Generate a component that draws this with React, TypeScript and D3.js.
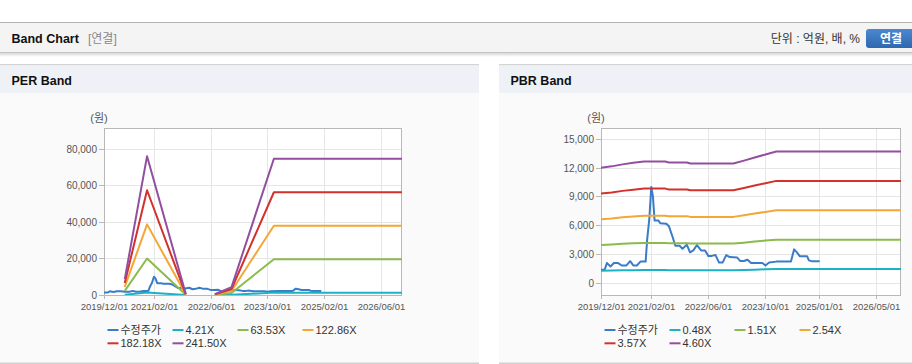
import React from "react";
import * as d3 from "d3";

// ---------- DATA ----------
const priceDates = [
  "2019-12-01", "2020-01-01", "2020-01-20", "2020-02-20", "2020-03-20", "2020-04-25",
  "2020-05-25", "2020-07-05", "2020-08-05", "2020-09-01", "2020-10-01", "2020-11-01",
  "2020-12-15", "2020-12-28", "2021-01-15", "2021-02-01", "2021-02-15", "2021-03-01",
  "2021-04-01", "2021-04-20", "2021-06-10", "2021-07-01", "2021-08-01", "2021-08-25",
  "2021-09-30", "2021-10-25", "2021-12-01", "2021-12-28", "2022-01-25", "2022-02-25",
  "2022-04-01", "2022-05-05", "2022-06-01", "2022-07-01", "2022-08-01", "2022-09-01",
  "2022-10-01", "2022-11-01", "2022-12-01", "2023-02-01", "2023-03-01", "2023-04-01",
  "2023-05-01", "2023-06-01", "2023-09-05", "2023-10-01", "2023-11-01", "2024-01-01",
  "2024-05-05", "2024-06-01", "2024-06-25", "2024-07-20", "2024-09-20", "2024-10-05",
  "2024-11-01", "2025-01-05",
];
const priceValues = [
  1350, 1350, 2050, 1700, 2050, 2050,
  1800, 1800, 2250, 1800, 1800, 2200,
  2200, 4500, 6600, 10000, 9000, 6500,
  6500, 6200, 6150, 5900, 4800, 3860,
  3860, 3550, 3960, 3160, 3370, 3930,
  3370, 3370, 2800, 2800, 2900, 2100,
  2100, 2880, 2680, 2640, 2260, 2260,
  2400, 2050, 2050, 1800, 2100, 2200,
  2200, 3480, 3160, 2750, 2750, 2330,
  2230, 2230,
];

// PER band: EPS per date (null = no band)
const epsDates = ["2020-05-27", "2020-12-04", "2021-11-01", "2022-03-01", "2022-07-08", "2022-11-28", "2023-11-26", "2026-11-28"];
const epsValues: (number | null)[] = [36, 315, 2, null, 2, 18, 309, 309];
const perMultiples = [4.21, 63.53, 122.86, 182.18, 241.5];
const perLabels = ["4.21X", "63.53X", "122.86X", "182.18X", "241.50X"];

// PBR band: BPS per date
const bpsDates = [
  "2019-12-01", "2020-03-01", "2020-06-01", "2020-09-01", "2020-12-01", "2021-06-01",
  "2021-07-01", "2021-12-01", "2022-01-01", "2023-01-01", "2023-04-01", "2023-07-01",
  "2023-10-01", "2024-01-01", "2026-11-28",
];
const bpsValues = [
  2607, 2640, 2685, 2720, 2751, 2751,
  2728, 2728, 2705, 2705, 2770, 2840,
  2910, 2977, 2977,
];
const pbrMultiples = [0.48, 1.51, 2.54, 3.57, 4.6];
const pbrLabels = ["0.48X", "1.51X", "2.54X", "3.57X", "4.60X"];

const priceLabel = "수정주가";
const seriesColors = ["#3a7cc8", "#1cb2c6", "#8bbb4c", "#f4a636", "#d2312c", "#944ea0"];

const perYTicks = [0, 20000, 40000, 60000, 80000];
const pbrYTicks = [0, 3000, 6000, 9000, 12000, 15000];
const perXTicks = ["2019-12-01", "2021-02-01", "2022-06-01", "2023-10-01", "2025-02-01", "2026-06-01"];
const pbrXTicks = ["2019-12-01", "2021-02-01", "2022-06-01", "2023-10-01", "2025-01-01", "2026-05-01"];
const xDomain = ["2019-12-01", "2026-11-28"];

// ---------- HELPERS ----------
const parse = d3.timeParse("%Y-%m-%d");
const FONT = "'Liberation Sans', 'Noto Sans CJK KR', Arial, sans-serif";

type Pt = { d: Date; v: number | null };
type Series = { name: string; color: string; points: Pt[] };

const pricePoints: Pt[] = priceDates.map((s, i) => ({ d: parse(s) as Date, v: priceValues[i] }));

const perSeries: Series[] = [
  { name: priceLabel, color: seriesColors[0], points: pricePoints },
  ...perMultiples.map((m, k) => ({
    name: perLabels[k],
    color: seriesColors[k + 1],
    points: epsDates.map((s, i) => ({ d: parse(s) as Date, v: epsValues[i] == null ? null : (epsValues[i] as number) * m })),
  })),
];

const pbrSeries: Series[] = [
  { name: priceLabel, color: seriesColors[0], points: pricePoints },
  ...pbrMultiples.map((m, k) => ({
    name: pbrLabels[k],
    color: seriesColors[k + 1],
    points: bpsDates.map((s, i) => ({ d: parse(s) as Date, v: bpsValues[i] * m })),
  })),
];

type ChartProps = {
  id: string;
  left: number;
  right: number;
  top: number;
  bottom: number;
  yDomain: [number, number];
  yTicks: number[];
  xTicks: string[];
  series: Series[];
};

function BandChart({ id, left, right, top, bottom, yDomain, yTicks, xTicks, series }: ChartProps) {
  const x = d3.scaleTime().domain(xDomain.map((s) => parse(s) as Date)).range([left, right]);
  const y = d3.scaleLinear().domain(yDomain).range([bottom, top]);
  const line = d3
    .line<Pt>()
    .defined((p) => p.v != null)
    .x((p) => x(p.d))
    .y((p) => y(p.v as number));
  const fmt = d3.format(",");
  const legendX0 = left + 3.5;
  return (
    <g>
      <defs>
        <clipPath id={id + "clip"}>
          <rect x={left} y={top} width={right - left} height={bottom - top} />
        </clipPath>
      </defs>
      <rect x={left} y={top} width={right - left} height={bottom - top} fill="#ffffff" />
      {/* grid */}
      {yTicks.map((t) => (
        <line key={"gy" + t} x1={left} x2={right} y1={Math.round(y(t)) + 0.5} y2={Math.round(y(t)) + 0.5} stroke="#e6e6e6" />
      ))}
      {xTicks.map((t) => {
        const xx = Math.round(x(parse(t) as Date)) + 0.5;
        return <line key={"gx" + t} x1={xx} x2={xx} y1={top} y2={bottom} stroke="#e6e6e6" />;
      })}
      {/* frame */}
      <rect x={left + 0.5} y={top + 0.5} width={right - left - 1} height={bottom - top} fill="none" stroke="#b8b8b8" />
      {/* y ticks + labels */}
      {yTicks.map((t) => {
        const yy = Math.round(y(t)) + 0.5;
        return (
          <g key={"yt" + t}>
            <line x1={left - 5} x2={left} y1={yy} y2={yy} stroke="#b8b8b8" />
            <text x={left - 7} y={yy} dy="0.35em" textAnchor="end" fontSize={10} fill="#555" fontFamily={FONT}>
              {fmt(t)}
            </text>
          </g>
        );
      })}
      {/* x ticks + labels */}
      {xTicks.map((t) => {
        const xx = Math.round(x(parse(t) as Date)) + 0.5;
        return (
          <g key={"xt" + t}>
            <line x1={xx} x2={xx} y1={bottom} y2={bottom + 4} stroke="#b8b8b8" />
            <text x={xx} y={310} textAnchor="middle" fontSize={9.5} fill="#555" fontFamily={FONT}>
              {t.replace(/-/g, "/")}
            </text>
          </g>
        );
      })}
      <text x={left - 5} y={122} textAnchor="middle" fontSize={11} fill="#555" fontFamily={FONT}>
        (원)
      </text>
      {/* series */}
      <g clipPath={`url(#${id}clip)`}>
        {series.map((s) => (
          <path key={s.name} d={line(s.points) || ""} fill="none" stroke={s.color} strokeWidth={2} strokeLinejoin="round" />
        ))}
      </g>
      {/* legend */}
      {series.map((s, i) => {
        const col = i % 4;
        const row = Math.floor(i / 4);
        const lx = legendX0 + col * 65;
        const ly = 330 + row * 13.3;
        return (
          <g key={"lg" + s.name}>
            <line x1={lx} x2={lx + 11} y1={ly} y2={ly} stroke={s.color} strokeWidth={2} />
            <text x={lx + 13} y={ly + 3.8} fontSize={11} fill="#333" fontFamily={FONT}>
              {s.name}
            </text>
          </g>
        );
      })}
    </g>
  );
}

export default function App() {
  return (
    <div style={{ position: "fixed", left: 0, top: 0 }}>
      <svg width={912} height={364} style={{ display: "block" }}>
        <defs>
          <linearGradient id="shadow" x1="0" y1="0" x2="0" y2="1">
            <stop offset="0" stopColor="#d8d8d8" />
            <stop offset="1" stopColor="#ffffff" />
          </linearGradient>
          <linearGradient id="btn" x1="0" y1="0" x2="0" y2="1">
            <stop offset="0" stopColor="#4b88cf" />
            <stop offset="1" stopColor="#2d68b0" />
          </linearGradient>
        </defs>
        <rect x={0} y={0} width={912} height={364} fill="#ffffff" />
        {/* top header bar */}
        <rect x={0} y={22} width={912} height={1} fill="#b4b4b4" />
        <rect x={0} y={23} width={912} height={29} fill="#f4f4f4" />
        <rect x={0} y={52} width={912} height={1} fill="#c4c4c4" />
        <rect x={0} y={53} width={912} height={4} fill="url(#shadow)" />
        <text x={11.5} y={43} fontSize={12.5} fontWeight="bold" fill="#111" fontFamily={FONT}>
          Band Chart
        </text>
        <text x={88} y={43} fontSize={12} fill="#888" fontFamily={FONT}>
          [연결]
        </text>
        <text x={860} y={43} textAnchor="end" fontSize={12} fill="#333" fontFamily={FONT}>
          단위 : 억원, 배, %
        </text>
        <rect x={866} y={29} width={50} height={19} rx={3} fill="url(#btn)" />
        <text x={891} y={42.5} textAnchor="middle" fontSize={12} fontWeight="bold" fill="#fff" fontFamily={FONT}>
          연결
        </text>

        {/* panels */}
        {[
          { px: 0, pw: 479, title: "PER Band" },
          { px: 499, pw: 413, title: "PBR Band" },
        ].map((p) => (
          <g key={p.title}>
            <rect x={p.px} y={64} width={p.pw} height={1.5} fill="#d4d4d4" />
            <rect x={p.px} y={65.5} width={p.pw} height={27.5} fill="#eef2f7" />
            <rect x={p.px} y={93} width={p.pw} height={269.5} fill="#fafafa" />
            <rect x={p.px} y={362.5} width={p.pw} height={1.5} fill="#cfcfcf" />
            <text x={p.px + 11.5} y={85} fontSize={12.5} fontWeight="bold" fill="#111" fontFamily={FONT}>
              {p.title}
            </text>
          </g>
        ))}

        <BandChart
          id="per"
          left={104}
          right={402}
          top={128}
          bottom={295}
          yDomain={[0, 91500]}
          yTicks={perYTicks}
          xTicks={perXTicks}
          series={perSeries}
        />
        <BandChart
          id="pbr"
          left={601}
          right={901}
          top={128}
          bottom={295}
          yDomain={[-1284, 16148]}
          yTicks={pbrYTicks}
          xTicks={pbrXTicks}
          series={pbrSeries}
        />
      </svg>
    </div>
  );
}
